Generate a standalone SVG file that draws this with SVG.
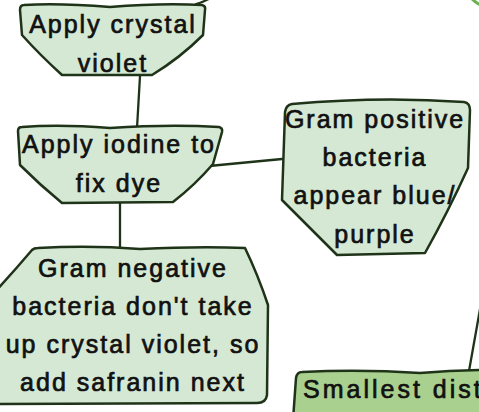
<svg xmlns="http://www.w3.org/2000/svg" width="479" height="412" viewBox="0 0 479 412">
<style>
.n{fill:#d5e8d4;stroke:#1f3319;stroke-width:2.5;stroke-linejoin:round}
.n5{fill:#a9d08e;stroke:#1f3319;stroke-width:2.5;stroke-linejoin:round}
.c{fill:none;stroke:#1f3319;stroke-width:2.3;stroke-linecap:round}
.t{font-family:"Liberation Sans",Arial,sans-serif;font-size:25px;letter-spacing:2px;fill:#111;stroke:#111;stroke-width:0.7;text-anchor:middle}
</style>
<rect width="479" height="412" fill="#fff"/>
<g id="connectors">
<path class="c" d="M196,4 Q204,2 212,-3"/>
<path d="M471,-2 Q476,3 482,6" fill="none" stroke="#6ab04c" stroke-width="3"/>
<path class="c" d="M140,76 L137,128"/>
<path class="c" d="M120,203 L120,249"/>
<path class="c" d="M209,166 L282,159"/>
<path class="c" d="M469,371 L482,298"/>
</g>
<g id="node1">
<path class="n" d="M24,5 Q60,3 110,7 Q160,3 202,5 Q206,6 205,10 L203,35 Q180,58 152,75 L62,75 Q40,55 22,35 L20,10 Q20,5 24,5 Z"/>
<text class="t" x="113" y="33">Apply crystal</text>
<text class="t" x="113" y="72">violet</text>
</g>
<g id="node2">
<path class="n" d="M22,127 Q60,124 110,128 Q170,124 219,127 Q223,128 222,132 L213,164 Q195,185 173,202 L62,203 Q40,185 20,165 L18,131 Q18,127 22,127 Z"/>
<text class="t" x="119" y="153">Apply iodine to</text>
<text class="t" x="119" y="192">fix dye</text>
</g>
<g id="node3">
<path class="n" d="M38,248 Q90,245 140,249 Q200,246 245,248 Q258,275 268,305 L267,395 Q266,403 257,403 L-5,404 L-5,292 Q15,270 32,250 Q34,248 38,248 Z"/>
<text class="t" x="133" y="277">Gram negative</text>
<text class="t" x="133" y="315">bacteria don't take</text>
<text class="t" x="133" y="353">up crystal violet, so</text>
<text class="t" x="133" y="391">add safranin next</text>
</g>
<g id="node4">
<path class="n" d="M292,104 Q380,96 464,102 Q470,103 470,110 L468,168 Q448,212 425,253 L337,255 Q310,228 282,200 L285,112 Q286,105 292,104 Z"/>
<text class="t" x="375" y="128">Gram positive</text>
<text class="t" x="375" y="166">bacteria</text>
<text class="t" x="375" y="204">appear blue/</text>
<text class="t" x="375" y="243">purple</text>
</g>
<g id="node5">
<path class="n5" d="M302,372 Q360,369 420,373 Q455,370 490,370 L490,420 L293,420 L296,378 Q297,372 302,372 Z"/>
<text class="t" x="303" y="398" style="text-anchor:start;letter-spacing:3px">Smallest dist</text>
</g>
</svg>
